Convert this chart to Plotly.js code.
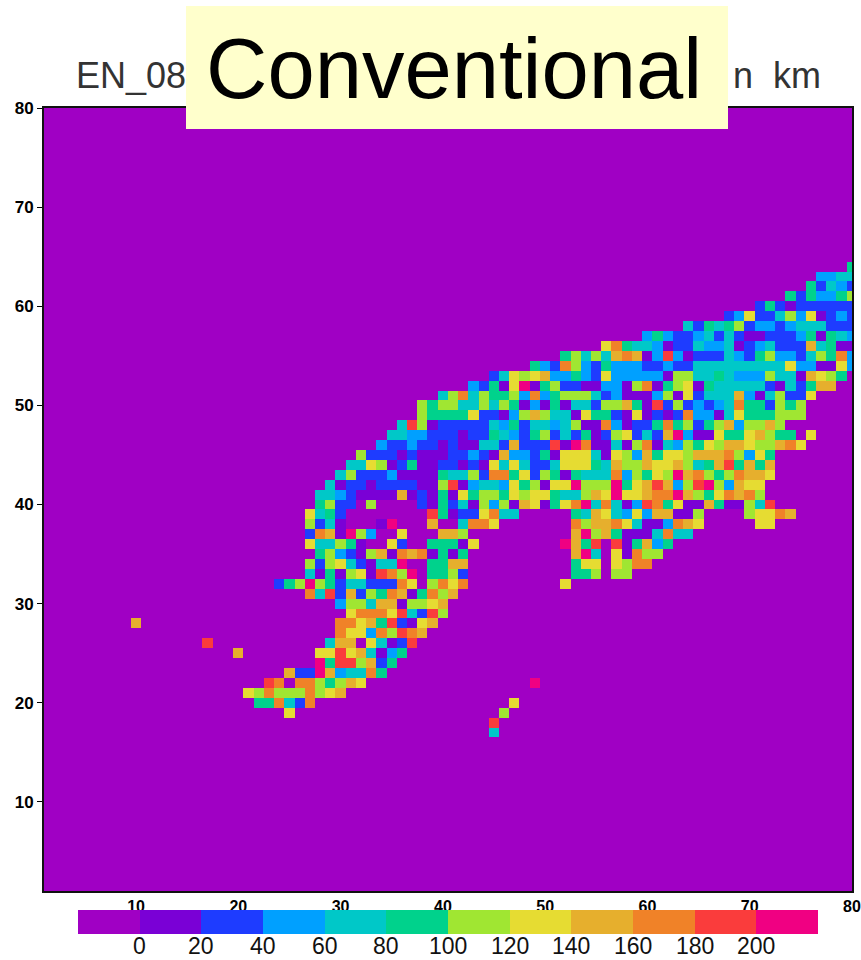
<!DOCTYPE html>
<html>
<head>
<meta charset="utf-8">
<script src="https://cdn.plot.ly/plotly-3.0.1.min.js"></script>
<style>html,body{margin:0;padding:0;background:#fff;overflow:hidden}</style>
</head>
<body>
<div id="chart" style="width:861px;height:960px"></div>
<script>
// Colour classes of the field, one letter per cell in cellRuns below
const classLetters = [".","v","b","a","c","g","l","y","o","r","R","p"];
const classValues  = [-10,10,30,50,70,90,110,130,150,170,190,210];
const classColors  = ["#a000c4","#7a00d6","#1e3cff","#00a0ff","#00c8c8","#00d28c","#a0e632","#e6dc32","#e6af2d","#f08228","#fa3c3c","#f00082"];
const axisTicks    = [10,20,30,40,50,60,70,80];
const barTicks     = [0,20,40,60,80,100,120,140,160,180,200];
const gridSize     = 80;

// Runs of non-background cells: row (y), first column (x), classes
const runY = [17,18,19,19,20,20,21,22,22,23,24,25,25,26,26,27,28,28,29,30,31,32,32,33,33,34,34,35,35,36,36,37,37,38,38,38,39,39,39,40,41,42,43,44,45,46,47,48,49,50,51,52,53,54,55,56,57,58,59,60,61,62,63,64];
const runX = [45,45,25,46,22,47,21,23,49,25,28,20,28,17,29,30,10,30,31,30,27,24,52,27,53,27,53,28,53,27,52,27,53,27,53,71,27,53,70,28,28,29,30,31,32,34,35,36,38,38,40,43,45,49,52,56,60,64,68,71,74,76,77,80];
const runCells = [
"c","R","y","l","ggrcbr","y","ylrlllrlyo","Rr.rrlgloy","p","obbpoaccrg","pgRRlobg","o","yyRyocvag","R","coo.ycvbR",
"ryyarlRro","o","rryogRbvyo","yrrryRcbRl","allcoovllyo","rcRboblgrovgrlo","bglplgbccbbbry.lryr","y",
"cvgvlyvRrlp.gglb","ggl.ll","lblycbvccp..ggoo","gyy.ylrr","glabvlovrorvgvg","opc.yvrll",
"ycclgv..yb..gggvy","pogR.Rvgoag","brovpla..y...ool","oplogvvvcrcc","lbcv...vp...o..crry","rloorycvvaroy","yy",
"ycgb........Rgvbbyrcc","gcoycayaoovvl","lyyro",
"glbb.l....bvgbcvlalvoyvgyrpcrcvaRrgyvvogvvlcR",
"ccabvvvvovbvgvygllgylyygccloypyyorrpolgyrorl",
"cvbbvbbbbvvlRvaccayglvyyplllpgyoRoalRplaoyy",
"clbbbavvvvgcclbrrgyblgvgcccralgylporlglrooy",
"ccylvbgvvbbvbvycycbbcyyygcolloyyolcgoRgogo",
"lbbbvbvvvbbabvoaabgvyyycvylaogyylooorlayg",
"abbabbvbvvccbobbbRvprvvcvlrvcalgylooyllory",
"ccaabbbvbbgcabglbcbgvblybcbopavvyggyolgg.y",
"cRlvbbbbbcagbccaclvvravbbgrglbgloallol",
"lggggybbvalolccvyggbvyvbvbraavcyggglll",
"lgllcclclgvavgvccbllogvRblbabacrggblgl",
"clrclgglaraglllcbavvvalvybcccoavclbby",
"abgvypvglbbvvaavlrvglyvgcccccbvcbgoo",
"bcylyoaagabyaaaaavllccgcaaalccvoylg",
"gabrlabgaaabbabbcccccccccyaavvya",
"glclcorovaRavbbbcabglaabclgra",
"yrgccavbbcaacvbacbbbocgvv",
"agabbacbcbvvbbbagvgca",
"cbgcglbaabacccbbb",
"baybbclayvbab",
"bgbvbbbbbb",
"gbgaagl",
"gbcab",
"aacc",
"g"
];

// Build the z matrix from the runs
const axisValues = Array.from({length:gridSize},(_,i)=>i+1);
const zGrid = axisValues.map(()=>axisValues.map(()=>classValues[0]));
runCells.forEach((cells,r)=>{
  [...cells].forEach((ch,i)=>{
    const cx = runX[r]+i, cy = runY[r];
    const k = classLetters.indexOf(ch);
    if (cx<=gridSize && k>=0) zGrid[cy-1][cx-1] = classValues[k];
  });
});

// Discrete colour scale
const zMin = -20, zMax = 220, n = classColors.length;
const colorscale = [];
classColors.forEach((c,i)=>{ colorscale.push([i/n,c]); colorscale.push([(i+1)/n,c]); });

// Page pixels -> paper fractions for the plot frame
const W=861,H=960,L=44,R=852,T=108,B=891;
const BAR_L=78,BAR_W=740;
const px = v => (v-L)/(R-L);
const py = v => (B-v)/(B-T);
const sans = "Liberation Sans, Arial, sans-serif";

const barLabels = barTicks.map(v=>({
  xref:"paper",yref:"paper",x:px(BAR_L+BAR_W*(v-zMin)/(zMax-zMin)),y:py(946),
  xanchor:"center",yanchor:"middle",showarrow:false,text:String(v),
  font:{family:sans,size:23,color:"#111"}
}));

Plotly.newPlot("chart",[{
  type:"heatmap", x:axisValues, y:axisValues, z:zGrid,
  zmin:zMin, zmax:zMax, colorscale:colorscale, zsmooth:false, hoverinfo:"skip",
  colorbar:{
    orientation:"h", thicknessmode:"pixels", thickness:24, lenmode:"pixels", len:BAR_W,
    x:px(BAR_L), xanchor:"left", y:py(910), yanchor:"top", xpad:0, ypad:0,
    outlinewidth:0, borderwidth:0, ticks:"", ticklen:0, showticklabels:false
  }
}],{
  width:W,height:H,
  margin:{l:L,r:W-R,t:T,b:H-B,pad:0,autoexpand:false},
  paper_bgcolor:"#fff",plot_bgcolor:"#a000c4",
  showlegend:false,
  xaxis:{range:[1,80],tickmode:"array",tickvals:axisTicks,ticktext:axisTicks.map(String),
    ticks:"",showgrid:false,zeroline:false,
    showline:true,linecolor:"#111",linewidth:2,mirror:true,automargin:false,
    tickfont:{family:sans,size:16,color:"#000",weight:"bold"},tickangle:0},
  yaxis:{range:[1,80],tickmode:"array",tickvals:axisTicks,ticktext:axisTicks.map(String),
    ticks:"outside",ticklen:5,tickwidth:1,tickcolor:"#000",showgrid:false,zeroline:false,
    showline:true,linecolor:"#111",linewidth:2,mirror:true,automargin:false,
    tickfont:{family:sans,size:17,color:"#000",weight:"bold"}},
  shapes:[{type:"rect",xref:"paper",yref:"paper",layer:"above",
    x0:px(186),x1:px(728),y0:py(129),y1:py(6),fillcolor:"#ffffcc",line:{width:0}}],
  annotations:[
    {xref:"paper",yref:"paper",x:px(74),y:py(98),xanchor:"left",yanchor:"bottom",showarrow:false,
     text:"EN_08",font:{family:sans,size:36,color:"#333"}},
    {xref:"paper",yref:"paper",x:px(823),y:py(98),xanchor:"right",yanchor:"bottom",showarrow:false,
     text:"n\u00a0 km",font:{family:sans,size:36,color:"#333"}},
    {xref:"paper",yref:"paper",x:px(454),y:py(68),xanchor:"center",yanchor:"middle",showarrow:false,
     text:"Conventional",font:{family:sans,size:85,color:"#000"}}
  ].concat(barLabels)
},{displayModeBar:false,staticPlot:true});
</script>
</body>
</html>
